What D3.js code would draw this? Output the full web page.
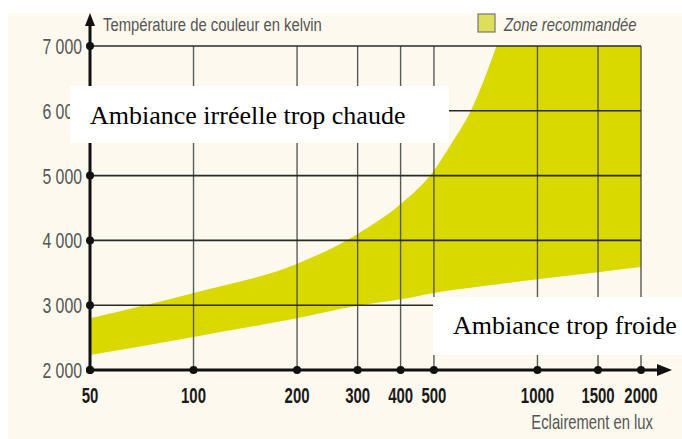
<!DOCTYPE html>
<html>
<head>
<meta charset="utf-8">
<script src="https://cdn.jsdelivr.net/npm/d3@7"></script>
<style>
  body { margin: 0; background: #fff; }
  svg { display: block; }
</style>
</head>
<body>
<svg width="682" height="439"></svg>
<script>
const svg = d3.select("svg");

// values
const luxTicks = [50, 100, 200, 300, 400, 500, 1000, 1500, 2000];
const kelvinTicks = [2000, 3000, 4000, 5000, 6000, 7000];
const kelvinLabels = ["2 000", "3 000", "4 000", "5 000", "6 000", "7 000"];

// band edges; the top edge runs past 7 000 and gets clipped like in the print
const bandLux = [50, 100, 200, 300, 400, 500, 560, 640, 760, 1000, 1500, 2000];
const bandLow = [2230, 2510, 2800, 2990, 3090, 3190, 3230, 3270, 3320, 3400, 3510, 3590];
const bandHigh = [2800, 3190, 3640, 4100, 4560, 5080, 5480, 6000, 7000, 9000, 11000, 12000];

const sans = "'Liberation Sans', Arial, sans-serif";
const yellow = "#d9d900";

const x = d3.scaleLog().domain([50, 2000]).range([90, 641]);
const y = d3.scaleLinear().domain([2000, 7000]).range([370, 46]);

// condensed look: liberation sans squeezed horizontally
function narrowText(sel, px, py, str, opts) {
  opts = opts || {};
  return sel.append("text")
    .attr("transform", `translate(${px},${py}) scale(${opts.squeeze || 0.78},1)`)
    .attr("text-anchor", opts.anchor || "start")
    .attr("font-family", sans)
    .attr("font-size", opts.size || 19)
    .attr("font-weight", opts.weight || "normal")
    .attr("font-style", opts.style || "normal")
    .attr("fill", opts.fill || "#555")
    .text(str);
}

// cream paper
svg.append("rect")
  .attr("x", 8).attr("y", 13)
  .attr("width", 674).attr("height", 426)
  .attr("fill", "#fdf9ee");

svg.append("clipPath").attr("id", "plot")
  .append("rect")
    .attr("x", x(50)).attr("y", y(7000))
    .attr("width", x(2000) - x(50)).attr("height", y(2000) - y(7000));

// recommended zone
const band = bandLux.map((d, i) => ({lux: d, lo: bandLow[i], hi: bandHigh[i]}));
svg.append("path")
  .datum(band)
  .attr("clip-path", "url(#plot)")
  .attr("fill", yellow)
  .attr("d", d3.area()
    .x(d => x(d.lux))
    .y0(d => y(d.lo))
    .y1(d => y(d.hi))
    .curve(d3.curveMonotoneX));

// grid
const grid = svg.append("g");
grid.selectAll(".v")
  .data(luxTicks.slice(1))
  .enter().append("line")
    .attr("x1", d => x(d)).attr("x2", d => x(d))
    .attr("y1", y(7000)).attr("y2", y(2000))
    .attr("stroke", "#5a5a5a")
    .attr("stroke-width", 1.4);
grid.selectAll(".h")
  .data(kelvinTicks.slice(1))
  .enter().append("line")
    .attr("x1", x(50)).attr("x2", x(2000))
    .attr("y1", d => y(d)).attr("y2", d => y(d))
    .attr("stroke", "#2a2a2a")
    .attr("stroke-width", 1.6);

// axes with arrows
svg.append("line")
  .attr("x1", x(50)).attr("x2", 660)
  .attr("y1", y(2000)).attr("y2", y(2000))
  .attr("stroke", "#111").attr("stroke-width", 3);
svg.append("path")
  .attr("d", `M672,${y(2000)} L657,${y(2000) - 6} L657,${y(2000) + 6} Z`)
  .attr("fill", "#111");
svg.append("line")
  .attr("x1", x(50)).attr("x2", x(50))
  .attr("y1", y(2000)).attr("y2", 24)
  .attr("stroke", "#111").attr("stroke-width", 3);
svg.append("path")
  .attr("d", `M${x(50)},13 L${x(50) - 5},26 L${x(50) + 5},26 Z`)
  .attr("fill", "#111");

// tick dots
svg.selectAll(".xd")
  .data(luxTicks)
  .enter().append("circle")
    .attr("cx", d => x(d)).attr("cy", y(2000)).attr("r", 4)
    .attr("fill", "#111");
svg.selectAll(".yd")
  .data(kelvinTicks)
  .enter().append("circle")
    .attr("cx", x(50)).attr("cy", d => y(d)).attr("r", 4)
    .attr("fill", "#111");

// tick labels
luxTicks.forEach(d => {
  narrowText(svg, x(d), 403, d, {anchor: "middle", weight: "bold", fill: "#1a1a1a", size: 22, squeeze: 0.68});
});
kelvinTicks.forEach((d, i) => {
  narrowText(svg, 82, y(d) + 8, kelvinLabels[i], {anchor: "end", size: 22, squeeze: 0.72});
});

// axis titles
narrowText(svg, 103, 31, "Température de couleur en kelvin");
narrowText(svg, 653, 429, "Eclairement en lux", {anchor: "end", size: 20, squeeze: 0.74});

// legend
svg.append("rect")
  .attr("x", 478).attr("y", 14)
  .attr("width", 17).attr("height", 18)
  .attr("fill", "#dede5a")
  .attr("stroke", "#777").attr("stroke-width", 1.2);
narrowText(svg, 504, 31, "Zone recommandée", {style: "italic"});

// white annotation boxes
const notes = [
  {text: "Ambiance irréelle trop chaude", x0: 70, y0: 86, w: 379, h: 57, tx: 90, ty: 124},
  {text: "Ambiance trop froide", x0: 433, y0: 297, w: 249, h: 58, tx: 453, ty: 334}
];
notes.forEach(n => {
  svg.append("rect")
    .attr("x", n.x0).attr("y", n.y0)
    .attr("width", n.w).attr("height", n.h)
    .attr("fill", "#fff");
  svg.append("text")
    .attr("x", n.tx).attr("y", n.ty)
    .attr("font-family", "'Liberation Serif', 'Times New Roman', serif")
    .attr("font-size", 26)
    .attr("fill", "#000")
    .text(n.text);
});
</script>
</body>
</html>
